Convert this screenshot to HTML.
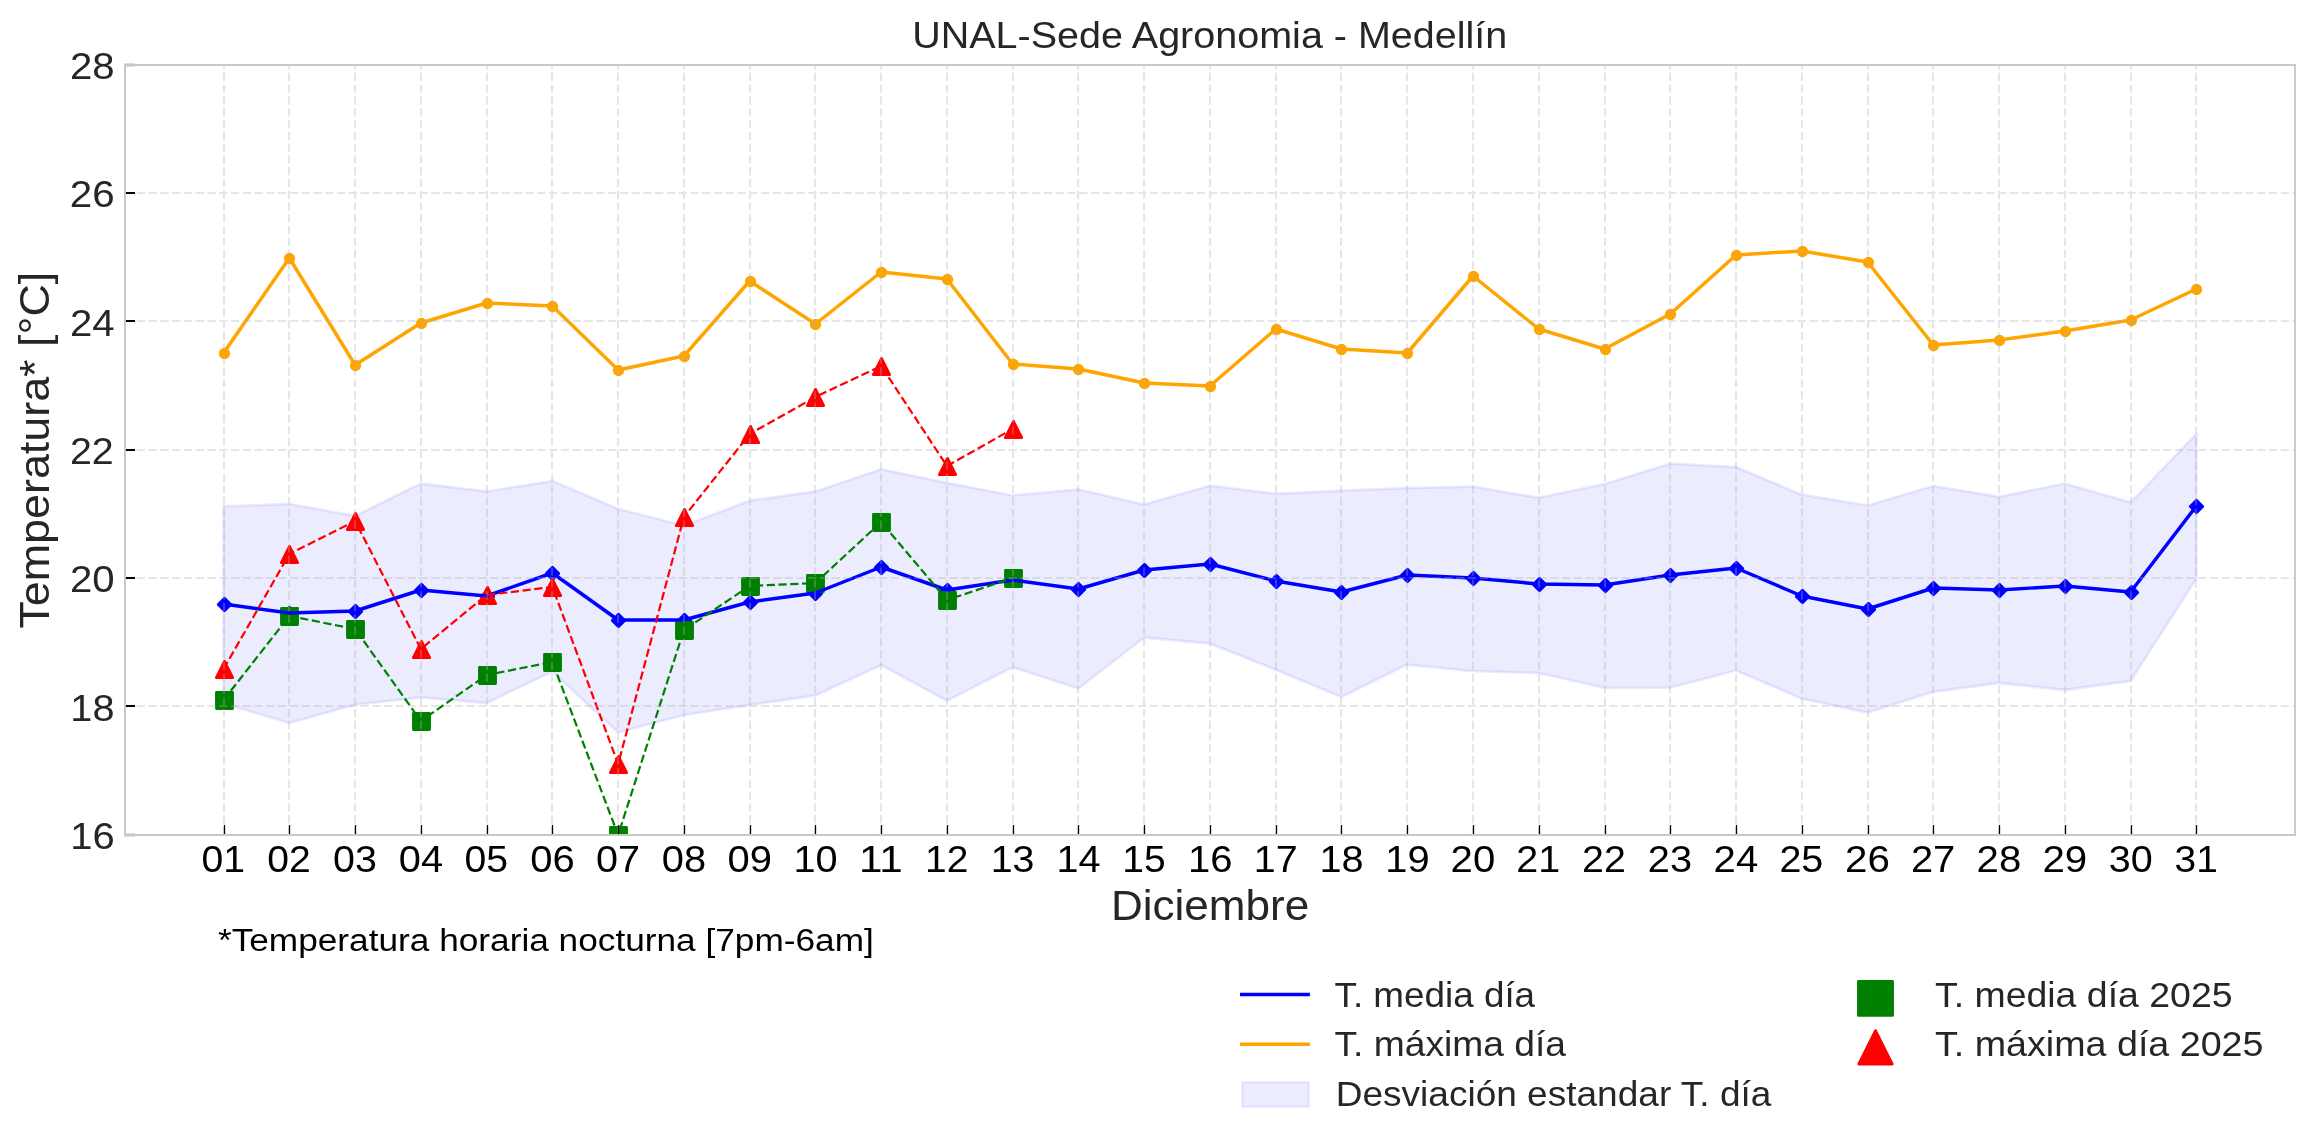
<!DOCTYPE html>
<html lang="es"><head><meta charset="utf-8"><title>UNAL-Sede Agronomia - Medellín</title>
<style>html,body{margin:0;padding:0;background:#fff;overflow:hidden;width:2314px;height:1146px;}svg{display:block;will-change:transform;}text{font-family:"Liberation Sans",sans-serif;}</style>
</head><body>
<svg width="2314" height="1146" viewBox="0 0 2314 1146">
<defs><clipPath id="ax"><rect x="125" y="65" width="2170" height="770"/></clipPath></defs>
<rect x="0" y="0" width="2314" height="1146" fill="#ffffff"/>
<g clip-path="url(#ax)">
<polygon points="223.58,506.4 289.34,504 355.1,515.9 420.86,483.6 486.62,491.5 552.38,481 618.14,508.9 683.9,525.5 749.65,500.7 815.41,491.5 881.17,469.3 946.93,482.8 1012.69,495.5 1078.45,489.4 1144.21,504.6 1209.97,485.7 1275.73,493.8 1341.48,490.7 1407.24,488.1 1473,486.7 1538.76,497.7 1604.52,484.2 1670.28,463.6 1736.04,467.1 1801.8,494.7 1867.56,505.5 1933.31,486 1999.07,496.8 2064.83,483.5 2130.59,502.4 2196.35,434 2196.35,578.5 2130.59,681 2064.83,690 1999.07,683 1933.31,691.8 1867.56,712.7 1801.8,698.7 1736.04,670.5 1670.28,687.6 1604.52,687.8 1538.76,673 1473,671.2 1407.24,664.6 1341.48,697 1275.73,669.8 1209.97,643.6 1144.21,637.5 1078.45,688.5 1012.69,667.2 946.93,700.7 881.17,665 815.41,695.5 749.65,705 683.9,715 618.14,732.5 552.38,671.6 486.62,703 420.86,697.4 355.1,704.7 289.34,723 223.58,703.5" fill="rgb(0,0,255)" fill-opacity="0.075" stroke="rgb(0,0,255)" stroke-opacity="0.08" stroke-width="2.78" stroke-linejoin="round"/>
<path d="M224.5 598.3L230.7 604.5L224.5 610.7L218.3 604.5ZM289.5 607.3L295.7 613.5L289.5 619.7L283.3 613.5ZM355.5 605.3L361.7 611.5L355.5 617.7L349.3 611.5ZM421.5 584.3L427.7 590.5L421.5 596.7L415.3 590.5ZM487.5 590.3L493.7 596.5L487.5 602.7L481.3 596.5ZM552.5 567.3L558.7 573.5L552.5 579.7L546.3 573.5ZM618.5 614.3L624.7 620.5L618.5 626.7L612.3 620.5ZM684.5 614.3L690.7 620.5L684.5 626.7L678.3 620.5ZM750.5 596.3L756.7 602.5L750.5 608.7L744.3 602.5ZM815.5 587.3L821.7 593.5L815.5 599.7L809.3 593.5ZM881.5 561.3L887.7 567.5L881.5 573.7L875.3 567.5ZM947.5 584.3L953.7 590.5L947.5 596.7L941.3 590.5ZM1013.5 574.3L1019.7 580.5L1013.5 586.7L1007.3 580.5ZM1078.5 583.3L1084.7 589.5L1078.5 595.7L1072.3 589.5ZM1144.5 564.3L1150.7 570.5L1144.5 576.7L1138.3 570.5ZM1210.5 558.3L1216.7 564.5L1210.5 570.7L1204.3 564.5ZM1276.5 575.3L1282.7 581.5L1276.5 587.7L1270.3 581.5ZM1341.5 586.3L1347.7 592.5L1341.5 598.7L1335.3 592.5ZM1407.5 569.3L1413.7 575.5L1407.5 581.7L1401.3 575.5ZM1473.5 572.3L1479.7 578.5L1473.5 584.7L1467.3 578.5ZM1539.5 578.3L1545.7 584.5L1539.5 590.7L1533.3 584.5ZM1605.5 579.3L1611.7 585.5L1605.5 591.7L1599.3 585.5ZM1670.5 569.3L1676.7 575.5L1670.5 581.7L1664.3 575.5ZM1736.5 562.3L1742.7 568.5L1736.5 574.7L1730.3 568.5ZM1802.5 590.3L1808.7 596.5L1802.5 602.7L1796.3 596.5ZM1868.5 603.3L1874.7 609.5L1868.5 615.7L1862.3 609.5ZM1933.5 582.3L1939.7 588.5L1933.5 594.7L1927.3 588.5ZM1999.5 584.3L2005.7 590.5L1999.5 596.7L1993.3 590.5ZM2065.5 580.3L2071.7 586.5L2065.5 592.7L2059.3 586.5ZM2131.5 586.3L2137.7 592.5L2131.5 598.7L2125.3 592.5ZM2196.5 500.3L2202.7 506.5L2196.5 512.7L2190.3 506.5Z" fill="#0000ff" stroke="#0000ff" stroke-width="2.78" stroke-linejoin="round"/>
<circle cx="224.5" cy="353.5" r="4.25" fill="#ffa500" stroke="#ffa500" stroke-width="2.78"/>
<circle cx="289.5" cy="258.5" r="4.25" fill="#ffa500" stroke="#ffa500" stroke-width="2.78"/>
<circle cx="355.5" cy="365.5" r="4.25" fill="#ffa500" stroke="#ffa500" stroke-width="2.78"/>
<circle cx="421.5" cy="323.5" r="4.25" fill="#ffa500" stroke="#ffa500" stroke-width="2.78"/>
<circle cx="487.5" cy="303.5" r="4.25" fill="#ffa500" stroke="#ffa500" stroke-width="2.78"/>
<circle cx="552.5" cy="306.5" r="4.25" fill="#ffa500" stroke="#ffa500" stroke-width="2.78"/>
<circle cx="618.5" cy="370.5" r="4.25" fill="#ffa500" stroke="#ffa500" stroke-width="2.78"/>
<circle cx="684.5" cy="356.5" r="4.25" fill="#ffa500" stroke="#ffa500" stroke-width="2.78"/>
<circle cx="750.5" cy="281.5" r="4.25" fill="#ffa500" stroke="#ffa500" stroke-width="2.78"/>
<circle cx="815.5" cy="324.5" r="4.25" fill="#ffa500" stroke="#ffa500" stroke-width="2.78"/>
<circle cx="881.5" cy="272.5" r="4.25" fill="#ffa500" stroke="#ffa500" stroke-width="2.78"/>
<circle cx="947.5" cy="279.5" r="4.25" fill="#ffa500" stroke="#ffa500" stroke-width="2.78"/>
<circle cx="1013.5" cy="364.5" r="4.25" fill="#ffa500" stroke="#ffa500" stroke-width="2.78"/>
<circle cx="1078.5" cy="369.5" r="4.25" fill="#ffa500" stroke="#ffa500" stroke-width="2.78"/>
<circle cx="1144.5" cy="383.5" r="4.25" fill="#ffa500" stroke="#ffa500" stroke-width="2.78"/>
<circle cx="1210.5" cy="386.5" r="4.25" fill="#ffa500" stroke="#ffa500" stroke-width="2.78"/>
<circle cx="1276.5" cy="329.5" r="4.25" fill="#ffa500" stroke="#ffa500" stroke-width="2.78"/>
<circle cx="1341.5" cy="349.5" r="4.25" fill="#ffa500" stroke="#ffa500" stroke-width="2.78"/>
<circle cx="1407.5" cy="353.5" r="4.25" fill="#ffa500" stroke="#ffa500" stroke-width="2.78"/>
<circle cx="1473.5" cy="276.5" r="4.25" fill="#ffa500" stroke="#ffa500" stroke-width="2.78"/>
<circle cx="1539.5" cy="329.5" r="4.25" fill="#ffa500" stroke="#ffa500" stroke-width="2.78"/>
<circle cx="1605.5" cy="349.5" r="4.25" fill="#ffa500" stroke="#ffa500" stroke-width="2.78"/>
<circle cx="1670.5" cy="314.5" r="4.25" fill="#ffa500" stroke="#ffa500" stroke-width="2.78"/>
<circle cx="1736.5" cy="255.5" r="4.25" fill="#ffa500" stroke="#ffa500" stroke-width="2.78"/>
<circle cx="1802.5" cy="251.5" r="4.25" fill="#ffa500" stroke="#ffa500" stroke-width="2.78"/>
<circle cx="1868.5" cy="262.5" r="4.25" fill="#ffa500" stroke="#ffa500" stroke-width="2.78"/>
<circle cx="1933.5" cy="345.5" r="4.25" fill="#ffa500" stroke="#ffa500" stroke-width="2.78"/>
<circle cx="1999.5" cy="340.5" r="4.25" fill="#ffa500" stroke="#ffa500" stroke-width="2.78"/>
<circle cx="2065.5" cy="331.5" r="4.25" fill="#ffa500" stroke="#ffa500" stroke-width="2.78"/>
<circle cx="2131.5" cy="320.5" r="4.25" fill="#ffa500" stroke="#ffa500" stroke-width="2.78"/>
<circle cx="2196.5" cy="289.5" r="4.25" fill="#ffa500" stroke="#ffa500" stroke-width="2.78"/>
<path d="M216.45 692.45h16.1v16.1h-16.1ZM281.45 608.45h16.1v16.1h-16.1ZM347.45 621.45h16.1v16.1h-16.1ZM413.45 713.45h16.1v16.1h-16.1ZM479.45 667.45h16.1v16.1h-16.1ZM544.45 654.45h16.1v16.1h-16.1ZM610.45 827.45h16.1v16.1h-16.1ZM676.45 622.45h16.1v16.1h-16.1ZM742.45 578.45h16.1v16.1h-16.1ZM807.45 575.45h16.1v16.1h-16.1ZM873.45 514.45h16.1v16.1h-16.1ZM939.45 592.45h16.1v16.1h-16.1ZM1005.45 570.45h16.1v16.1h-16.1Z" fill="#008000" stroke="#008000" stroke-width="2.78" stroke-linejoin="round"/>
<path d="M224.5 661.35L232.65 677.65L216.35 677.65ZM289.5 546.35L297.65 562.65L281.35 562.65ZM355.5 513.35L363.65 529.65L347.35 529.65ZM421.5 641.35L429.65 657.65L413.35 657.65ZM487.5 587.35L495.65 603.65L479.35 603.65ZM552.5 579.35L560.65 595.65L544.35 595.65ZM618.5 756.35L626.65 772.65L610.35 772.65ZM684.5 509.35L692.65 525.65L676.35 525.65ZM750.5 426.35L758.65 442.65L742.35 442.65ZM815.5 389.35L823.65 405.65L807.35 405.65ZM881.5 358.35L889.65 374.65L873.35 374.65ZM947.5 458.35L955.65 474.65L939.35 474.65ZM1013.5 421.35L1021.65 437.65L1005.35 437.65Z" fill="#ff0000" stroke="#ff0000" stroke-width="2.78" stroke-linejoin="round"/>
<polyline points="223.58,604 289.34,613 355.1,611 420.86,590 486.62,596 552.38,573 618.14,620 683.9,620 749.65,602 815.41,593 881.17,567 946.93,590 1012.69,580 1078.45,589 1144.21,570 1209.97,564 1275.73,581 1341.48,592 1407.24,575 1473,578 1538.76,584 1604.52,585 1670.28,575 1736.04,568 1801.8,596 1867.56,609 1933.31,588 1999.07,590 2064.83,586 2130.59,592 2196.35,506" fill="none" stroke="#0000ff" stroke-width="3.47" stroke-linejoin="round" stroke-linecap="butt"/>
<polyline points="223.58,353 289.34,258 355.1,365 420.86,323 486.62,303 552.38,306 618.14,370 683.9,356 749.65,281 815.41,324 881.17,272 946.93,279 1012.69,364 1078.45,369 1144.21,383 1209.97,386 1275.73,329 1341.48,349 1407.24,353 1473,276 1538.76,329 1604.52,349 1670.28,314 1736.04,255 1801.8,251 1867.56,262 1933.31,345 1999.07,340 2064.83,331 2130.59,320 2196.35,289" fill="none" stroke="#ffa500" stroke-width="3.47" stroke-linejoin="round" stroke-linecap="butt"/>
<polyline points="223.58,700 289.34,616 355.1,629 420.86,721 486.62,675 552.38,662 618.14,835 683.9,630 749.65,586 815.41,583 881.17,522 946.93,600 1012.69,578" fill="none" stroke="#008000" stroke-width="2.22" stroke-dasharray="8.22 3.56" stroke-linejoin="round"/>
<polyline points="223.58,669 289.34,554 355.1,521 420.86,649 486.62,595 552.38,587 618.14,764 683.9,517 749.65,434 815.41,397 881.17,366 946.93,466 1012.69,429" fill="none" stroke="#ff0000" stroke-width="2.22" stroke-dasharray="8.22 3.56" stroke-linejoin="round"/>
<path d="M224 835V65M289 835V65M355 835V65M421 835V65M487 835V65M552 835V65M618 835V65M684 835V65M750 835V65M815 835V65M881 835V65M947 835V65M1013 835V65M1078 835V65M1144 835V65M1210 835V65M1276 835V65M1341 835V65M1407 835V65M1473 835V65M1539 835V65M1605 835V65M1670 835V65M1736 835V65M1802 835V65M1868 835V65M1933 835V65M1999 835V65M2065 835V65M2131 835V65M2196 835V65M125 706H2295M125 578H2295M125 450H2295M125 321H2295M125 193H2295" fill="none" stroke="#b0b0b0" stroke-opacity="0.32" stroke-width="2.1" stroke-dasharray="8.22 3.56"/>
</g>
<path d="M224.5 835V825.1M289.5 835V825.1M355.5 835V825.1M421.5 835V825.1M487.5 835V825.1M552.5 835V825.1M618.5 835V825.1M684.5 835V825.1M750.5 835V825.1M815.5 835V825.1M881.5 835V825.1M947.5 835V825.1M1013.5 835V825.1M1078.5 835V825.1M1144.5 835V825.1M1210.5 835V825.1M1276.5 835V825.1M1341.5 835V825.1M1407.5 835V825.1M1473.5 835V825.1M1539.5 835V825.1M1605.5 835V825.1M1670.5 835V825.1M1736.5 835V825.1M1802.5 835V825.1M1868.5 835V825.1M1933.5 835V825.1M1999.5 835V825.1M2065.5 835V825.1M2131.5 835V825.1M2196.5 835V825.1" stroke="#000" stroke-width="1.3" fill="none"/>
<path d="M125 706H135M125 578H135M125 450H135M125 321H135M125 193H135" stroke="#000" stroke-width="1.9" fill="none"/>
<rect x="124.2" y="63.1" width="10.7" height="3.8" fill="#dadada"/>
<rect x="124.2" y="833.1" width="10.7" height="3.8" fill="#dadada"/>
<path d="M125 65H2295M125 835H2295M125 65V835M2295 65V835" stroke="#c8c8c8" stroke-width="1.9" fill="none" stroke-linecap="square"/>
<text x="70.34" y="848.9" font-size="37" fill="#262626" textLength="44.4" lengthAdjust="spacingAndGlyphs">16</text>
<text x="70.36" y="720.57" font-size="37" fill="#262626" textLength="44.18" lengthAdjust="spacingAndGlyphs">18</text>
<text x="69.9" y="592.23" font-size="37" fill="#262626" textLength="44.64" lengthAdjust="spacingAndGlyphs">20</text>
<text x="69.94" y="463.9" font-size="37" fill="#262626" textLength="43.8" lengthAdjust="spacingAndGlyphs">22</text>
<text x="69.91" y="335.57" font-size="37" fill="#262626" textLength="44.6" lengthAdjust="spacingAndGlyphs">24</text>
<text x="69.89" y="207.23" font-size="37" fill="#262626" textLength="44.87" lengthAdjust="spacingAndGlyphs">26</text>
<text x="69.9" y="78.9" font-size="37" fill="#262626" textLength="44.65" lengthAdjust="spacingAndGlyphs">28</text>
<text x="201.53" y="872" font-size="37" fill="#000" textLength="43.54" lengthAdjust="spacingAndGlyphs">01</text>
<text x="267.3" y="872" font-size="37" fill="#000" textLength="43.44" lengthAdjust="spacingAndGlyphs">02</text>
<text x="333.04" y="872" font-size="37" fill="#000" textLength="43.85" lengthAdjust="spacingAndGlyphs">03</text>
<text x="398.79" y="872" font-size="37" fill="#000" textLength="44.24" lengthAdjust="spacingAndGlyphs">04</text>
<text x="464.57" y="872" font-size="37" fill="#000" textLength="43.53" lengthAdjust="spacingAndGlyphs">05</text>
<text x="530.3" y="872" font-size="37" fill="#000" textLength="44.5" lengthAdjust="spacingAndGlyphs">06</text>
<text x="596.07" y="872" font-size="37" fill="#000" textLength="43.98" lengthAdjust="spacingAndGlyphs">07</text>
<text x="661.82" y="872" font-size="37" fill="#000" textLength="44.28" lengthAdjust="spacingAndGlyphs">08</text>
<text x="727.58" y="872" font-size="37" fill="#000" textLength="44.41" lengthAdjust="spacingAndGlyphs">09</text>
<text x="793.44" y="872" font-size="37" fill="#000" textLength="44.17" lengthAdjust="spacingAndGlyphs">10</text>
<text x="859.01" y="872" font-size="37" fill="#000" textLength="43.87" lengthAdjust="spacingAndGlyphs">11</text>
<text x="925.02" y="872" font-size="37" fill="#000" textLength="43.3" lengthAdjust="spacingAndGlyphs">12</text>
<text x="990.75" y="872" font-size="37" fill="#000" textLength="43.73" lengthAdjust="spacingAndGlyphs">13</text>
<text x="1056.48" y="872" font-size="37" fill="#000" textLength="44.14" lengthAdjust="spacingAndGlyphs">14</text>
<text x="1122.29" y="872" font-size="37" fill="#000" textLength="43.39" lengthAdjust="spacingAndGlyphs">15</text>
<text x="1187.98" y="872" font-size="37" fill="#000" textLength="44.4" lengthAdjust="spacingAndGlyphs">16</text>
<text x="1253.77" y="872" font-size="37" fill="#000" textLength="43.86" lengthAdjust="spacingAndGlyphs">17</text>
<text x="1319.51" y="872" font-size="37" fill="#000" textLength="44.18" lengthAdjust="spacingAndGlyphs">18</text>
<text x="1385.26" y="872" font-size="37" fill="#000" textLength="44.3" lengthAdjust="spacingAndGlyphs">19</text>
<text x="1450.57" y="872" font-size="37" fill="#000" textLength="44.64" lengthAdjust="spacingAndGlyphs">20</text>
<text x="1516.37" y="872" font-size="37" fill="#000" textLength="43.9" lengthAdjust="spacingAndGlyphs">21</text>
<text x="1582.13" y="872" font-size="37" fill="#000" textLength="43.8" lengthAdjust="spacingAndGlyphs">22</text>
<text x="1647.87" y="872" font-size="37" fill="#000" textLength="44.21" lengthAdjust="spacingAndGlyphs">23</text>
<text x="1713.61" y="872" font-size="37" fill="#000" textLength="44.6" lengthAdjust="spacingAndGlyphs">24</text>
<text x="1779.4" y="872" font-size="37" fill="#000" textLength="43.89" lengthAdjust="spacingAndGlyphs">25</text>
<text x="1845.12" y="872" font-size="37" fill="#000" textLength="44.87" lengthAdjust="spacingAndGlyphs">26</text>
<text x="1910.9" y="872" font-size="37" fill="#000" textLength="44.35" lengthAdjust="spacingAndGlyphs">27</text>
<text x="1976.64" y="872" font-size="37" fill="#000" textLength="44.65" lengthAdjust="spacingAndGlyphs">28</text>
<text x="2042.4" y="872" font-size="37" fill="#000" textLength="44.78" lengthAdjust="spacingAndGlyphs">29</text>
<text x="2108.83" y="872" font-size="37" fill="#000" textLength="43.95" lengthAdjust="spacingAndGlyphs">30</text>
<text x="2174.61" y="872" font-size="37" fill="#000" textLength="43.21" lengthAdjust="spacingAndGlyphs">31</text>
<text x="912.21" y="47.8" font-size="37" fill="#262626" textLength="595.09" lengthAdjust="spacingAndGlyphs">UNAL-Sede Agronomia - Medellín</text>
<text x="1110.91" y="919.7" font-size="42.6" fill="#262626" textLength="198.33" lengthAdjust="spacingAndGlyphs">Diciembre</text>
<text transform="translate(48.5,0) rotate(-90)" x="-628.62" y="0" font-size="42.6" fill="#262626" textLength="356.84" lengthAdjust="spacingAndGlyphs">Temperatura* [°C]</text>
<text x="217.95" y="951.4" font-size="32.1" fill="#000" textLength="655.89" lengthAdjust="spacingAndGlyphs">*Temperatura horaria nocturna [7pm-6am]</text>
<line x1="1240" y1="994.6" x2="1309.9" y2="994.6" stroke="#0000ff" stroke-width="3.47"/>
<line x1="1240" y1="1044.2" x2="1309.9" y2="1044.2" stroke="#ffa500" stroke-width="3.47"/>
<rect x="1242.3" y="1082.3" width="66.4" height="24.4" fill="rgb(0,0,255)" fill-opacity="0.075" stroke="rgb(0,0,255)" stroke-opacity="0.08" stroke-width="2.2"/>
<rect x="1858.45" y="981.35" width="34.1" height="34.1" fill="#008000" stroke="#008000" stroke-width="2.78" stroke-linejoin="round"/>
<path d="M1875.5 1030.6L1892.25 1064.1L1858.75 1064.1Z" fill="#ff0000" stroke="#ff0000" stroke-width="2.78" stroke-linejoin="round"/>
<text x="1334.48" y="1006.8" font-size="35.8" fill="#262626" textLength="200.64" lengthAdjust="spacingAndGlyphs">T. media día</text>
<text x="1334.47" y="1056.4" font-size="35.8" fill="#262626" textLength="231.56" lengthAdjust="spacingAndGlyphs">T. máxima día</text>
<text x="1335.7" y="1106" font-size="35.8" fill="#262626" textLength="435.74" lengthAdjust="spacingAndGlyphs">Desviación estandar T. día</text>
<text x="1934.96" y="1006.8" font-size="35.8" fill="#262626" textLength="297.61" lengthAdjust="spacingAndGlyphs">T. media día 2025</text>
<text x="1934.96" y="1056.4" font-size="35.8" fill="#262626" textLength="328.54" lengthAdjust="spacingAndGlyphs">T. máxima día 2025</text>
</svg>
</body></html>
